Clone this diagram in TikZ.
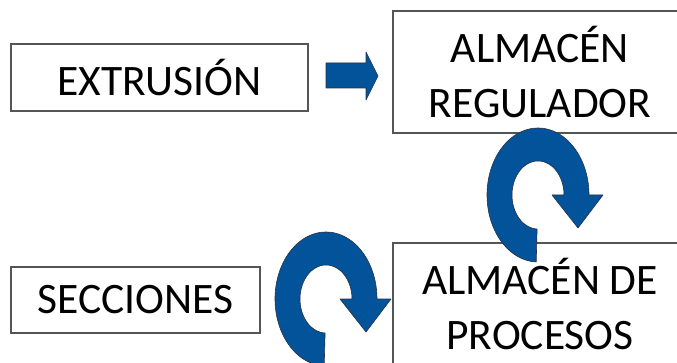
\documentclass[tikz,border=0pt]{standalone}
\usepackage{fontspec}
\setmainfont{Carlito}
\definecolor{boxgray}{RGB}{85,85,85}
\definecolor{arrowblue}{RGB}{2,83,154}
\definecolor{arrowedge}{RGB}{40,50,70}
\tikzset{
  box/.style={draw=boxgray, line width=1.2pt, rectangle, inner sep=0pt,
    align=center, font=\fontsize{43.5}{55.5}\selectfont},
  blockarrow/.style={fill=arrowblue, draw=arrowedge, line width=0.6pt, line join=round},
  % circular block arrow turning over the top and pointing down on the right
  turn arrow/.pic={
    \path[blockarrow]
      plot[domain=92:360, samples=90] ({51*cos(\x)},{67*sin(\x)})
      -- (65,0) -- (40,33) -- (14,0) -- (26,0)
      -- plot[domain=360:92, samples=90] ({26*cos(\x)},{34*sin(\x)})
      -- cycle;
  }
}
\begin{document}
\begin{tikzpicture}[x=1pt, y=-1pt]
\useasboundingbox (0,0) rectangle (677,363);

% process boxes
\node[box, minimum width=297pt, minimum height=67pt] (extr) at (159.5,77.5) {EXTRUSIÓN};
\node[box, minimum width=294pt, minimum height=122pt] (reg) at (540,72) {ALMACÉN\\REGULADOR};
\node[box, minimum width=249pt, minimum height=66pt] (secc) at (135.5,300) {SECCIONES};
\node[box, minimum width=294pt, minimum height=122pt] (proc) at (540,304) {ALMACÉN DE\\PROCESOS};

% straight block arrow from extrusion to the buffer store
\path[blockarrow] (326,63) -- (366,63) -- (366,52) -- (378,76)
  -- (366,100) -- (366,88) -- (326,88) -- cycle;

% circular block arrows
\pic (turnA) at (538,195) {turn arrow};
\pic (turnB) at (326,299) {turn arrow};
\end{tikzpicture}
\end{document}
